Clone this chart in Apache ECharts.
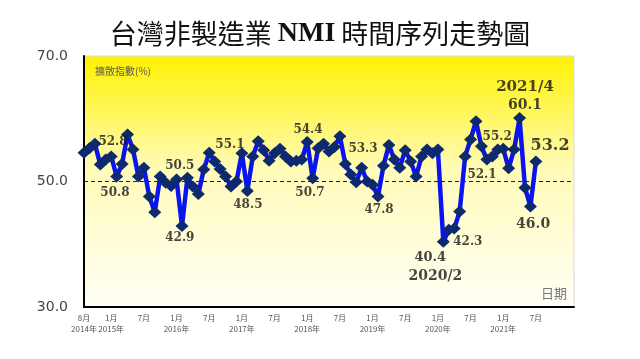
<!DOCTYPE html>
<html>
<head>
<meta charset="utf-8">
<script src="https://cdn.jsdelivr.net/npm/echarts@6/dist/echarts.min.js"></script>
<style>html,body{margin:0;padding:0;background:#fff}#c{width:640px;height:359px}</style>
</head>
<body>
<div id="c"></div>
<script>
// Monthly NMI, Aug 2014 .. Jul 2021
var values = [
  54.6, 55.3, 56.0, 52.7, 53.5,                                  // 2014 Aug-Dec
  54.0, 50.8, 52.8, 57.5, 55.1, 50.8, 52.2, 47.6, 45.1, 50.8, 49.8, 49.3, // 2015
  50.3, 42.9, 50.6, 49.2, 48.0, 51.9, 54.6, 53.2, 52.0, 50.8, 49.2, 50.0, // 2016
  54.5, 48.5, 54.0, 56.4, 55.0, 53.3, 54.5, 55.2, 54.0, 53.2, 53.3, 53.5, // 2017
  56.3, 50.5, 55.3, 56.0, 54.8, 55.5, 57.2, 52.8, 51.1, 49.9, 52.2, 50.0, // 2018
  49.5, 47.6, 52.5, 55.8, 53.5, 52.2, 55.0, 53.2, 50.8, 54.0, 55.1, 54.5, // 2019
  55.1, 40.4, 42.3, 42.5, 45.2, 54.0, 56.7, 59.6, 55.6, 53.5, 54.0, 55.1, // 2020
  55.2, 52.1, 55.1, 60.1, 49.0, 46.0, 53.2                              // 2021 Jan-Jul
];
// x-axis tick positions (months since Aug 2014) and their labels
var tickIndex  = [0, 5, 11, 17, 23, 29, 35, 41, 47, 53, 59, 65, 71, 77, 83];
var tickLabels = ['8月\n2014年','1月\n2015年','7月','1月\n2016年','7月','1月\n2017年','7月',
                  '1月\n2018年','7月','1月\n2019年','7月','1月\n2020年','7月','1月\n2021年','7月'];
var yTicks = [30, 50, 70];
// annotation texts
var noteTexts = ['52.8','50.8','50.5','42.9','55.1','48.5','54.4','50.7','53.3','47.8',
                 '40.4','2020/2','42.3','52.1','55.2','2021/4','60.1','53.2','46.0'];
</script>
<script>
var chart = echarts.init(document.getElementById('c'), null, {renderer:'canvas'});
var lineData = values.map(function(v, i){ return [i, v]; });
// annotation placement (data units) and sizes
var notePos = [
  [5.33,56.3,12],[5.69,48.2,12],[17.6,52.5,12],[17.6,41.0,12],[26.8,55.8,12],[30.1,46.3,12],
  [41.15,58.2,12],[41.5,48.2,12],[51.25,55.2,12],[54.2,45.5,12],
  [63.6,37.8,13],[64.55,34.9,14],[70.5,40.4,12],[73.1,51.0,12],[75.9,57.1,12],
  [81.0,65.1,15],[81.0,62.2,14],[85.6,55.7,16],[82.5,43.2,14]
];
var noteData = noteTexts.map(function(t, k){
  return {value:[notePos[k][0], notePos[k][1]], name:t,
          label:{fontSize:notePos[k][2]}};
});
var tickMap = {};
tickIndex.forEach(function(ix, k){ tickMap[ix] = tickLabels[k]; });

var option = {
  animation: false,
  title: {
    text: '{a|台灣非製造業 }{b|NMI}{a| 時間序列走勢圖}',
    left: 'center', top: 15,
    textStyle: { rich: {
      a: {fontFamily:'Noto Sans CJK TC', fontSize:27, color:'#111', fontWeight:'normal'},
      b: {fontFamily:'Liberation Serif', fontSize:28, color:'#111', fontWeight:'bold'}
    }}
  },
  grid: {
    left: 84, right: 66, top: 56, bottom: 52, show: true,
    borderColor: '#d8d8d8', borderWidth: 1,
    backgroundColor: new echarts.graphic.LinearGradient(0,0,0,1,[
      {offset:0, color:'#FFF200'},
      {offset:0.45, color:'#FFFBB8'},
      {offset:1, color:'#FFFFF6'}
    ])
  },
  xAxis: {
    type: 'value', min: 0, max: 90, interval: 1,
    axisLine: {show:true, onZero:false, lineStyle:{color:'#000', width:2}},
    axisTick: {show:false},
    splitLine: {show:false},
    axisLabel: {
      margin: 5, fontSize: 8, lineHeight: 11, color: '#555',
      fontFamily: 'Noto Sans CJK TC',
      formatter: function(v){ return tickMap[v] || ''; }
    }
  },
  yAxis: {
    type: 'value', min: 30, max: 70, interval: 20,
    axisLine: {show:true, lineStyle:{color:'#000', width:2}},
    axisTick: {show:false},
    splitLine: {show:false},
    axisLabel: {
      margin: 16, fontSize: 14, color: '#444', fontFamily: 'DejaVu Sans',
      formatter: function(v){ return v.toFixed(1); }
    }
  },
  series: [
    {
      type: 'line', data: lineData, z: 3,
      lineStyle: {color:'#0a14f0', width: 4.5},
      symbol: 'diamond', symbolSize: [13, 12],
      itemStyle: {color:'#0e2a6e', borderColor:'#0e2a6e', borderWidth:0},
      markLine: {
        silent: true, symbol: 'none', label: {show:false},
        lineStyle: {color:'#222', type:[4,3], width:1.2},
        data: [{yAxis: 50}]
      }
    },
    {
      type: 'scatter', data: noteData, symbolSize: 1, z: 5,
      itemStyle: {color:'rgba(0,0,0,0)'},
      label: {show:true, position:'inside', color:'#151515',
               fontFamily:'DejaVu Serif', fontWeight:'bold',
               formatter: function(p){ return p.name; }}
    }
  ],
  graphic: [
    {type:'text', left: 95, top: 66,
     style:{text:'擴散指數(%)', font:'10px "Noto Sans CJK TC"', fill:'#555'}},
    {type:'text', left: 541, top: 287,
     style:{text:'日期', font:'13px "Noto Sans CJK TC"', fill:'#777'}}
  ]
};
chart.setOption(option);
</script>
</body>
</html>
